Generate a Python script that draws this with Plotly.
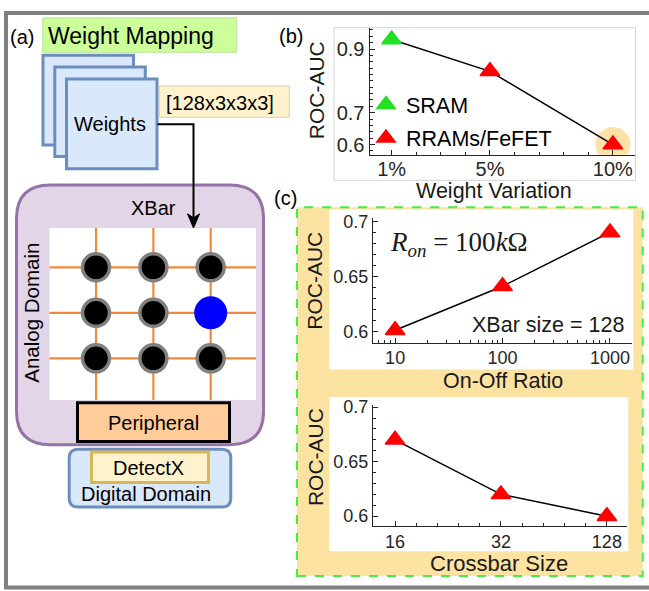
import plotly.graph_objects as go

W, H = 649, 591
SANS = "Liberation Sans, Arial, Helvetica, sans-serif"
SERIF = "Liberation Serif, Times New Roman, serif"
INK = "#262626"

# ---------------- data ----------------
# (b) ROC-AUC vs. weight variation
WV_PCT = [1, 5, 10]
WV_LABELS = ["1%", "5%", "10%"]
WV_AUC = [0.93, 0.83, 0.60]
WV_DEVICE = ["SRAM", "RRAMs/FeFET", "RRAMs/FeFET"]
WV_YTICKS = [0.6, 0.7, 0.9]

# (c) ROC-AUC vs. on-off ratio (XBar size = 128)
ONOFF_RATIO = [10, 100, 1000]
ONOFF_AUC = [0.601, 0.641, 0.69]

# (c) ROC-AUC vs. crossbar size
XBAR_SIZES = ["16", "32", "128"]
XBAR_AUC = [0.67, 0.62, 0.60]
C_YTICKS = [0.6, 0.65, 0.7]

# crossbar cells in the schematic (1 = highlighted cell)
CELL_ACTIVE = [
    [0, 0, 0],
    [0, 0, 1],
    [0, 0, 0],
]


def fx(x):
    return x / W


def fy(y):
    return 1 - y / H


shapes = []
annotations = []


def box(x0, y0, x1, y1, fill, line, lw, dash=None):
    shapes.append(dict(type="rect", xref="paper", yref="paper",
                       x0=fx(x0), x1=fx(x1), y0=fy(y1), y1=fy(y0),
                       fillcolor=fill, layer="below",
                       line=dict(color=line, width=lw, dash=dash)))


def rbox(x0, y0, x1, y1, r, fill, line, lw):
    p = (f"M{fx(x0 + r)},{fy(y0)} L{fx(x1 - r)},{fy(y0)} "
         f"Q{fx(x1)},{fy(y0)} {fx(x1)},{fy(y0 + r)} "
         f"L{fx(x1)},{fy(y1 - r)} Q{fx(x1)},{fy(y1)} {fx(x1 - r)},{fy(y1)} "
         f"L{fx(x0 + r)},{fy(y1)} Q{fx(x0)},{fy(y1)} {fx(x0)},{fy(y1 - r)} "
         f"L{fx(x0)},{fy(y0 + r)} Q{fx(x0)},{fy(y0)} {fx(x0 + r)},{fy(y0)} Z")
    shapes.append(dict(type="path", xref="paper", yref="paper", path=p,
                       fillcolor=fill, layer="below",
                       line=dict(color=line, width=lw)))


def poly(points, fill=None, line="black", lw=2, closed=False):
    p = "M" + " L".join(f"{fx(x)},{fy(y)}" for x, y in points)
    if closed:
        p += " Z"
    shapes.append(dict(type="path", xref="paper", yref="paper", path=p,
                       fillcolor=fill, layer="above",
                       line=dict(color=line, width=lw)))


def text(x, y, s, size, anchor="center", angle=0, family=SANS, color="black"):
    annotations.append(dict(xref="paper", yref="paper", x=fx(x), y=fy(y),
                            text=s, showarrow=False, xanchor=anchor,
                            yanchor="middle", textangle=angle,
                            font=dict(family=family, size=size, color=color)))


# ---------------- outer frame ----------------
shapes.append(dict(type="rect", xref="paper", yref="paper",
                   x0=fx(6), x1=fx(700), y0=fy(588.5), y1=fy(5),
                   line=dict(color="#808080", width=4), layer="above"))

# ---------------- (a) schematic ----------------
text(8, 29, "(a)", 20, anchor="left")
box(42.7, 10, 236.7, 45, "#CCFF99", "#BCE3A0", 1)
text(46, 28.5, "Weight Mapping", 23, anchor="left")

for (x0, y0) in [(43, 48), (54.8, 59.8), (66.5, 72.2)]:
    box(x0, y0, x0 + 90.5, y0 + 91, "#DAE8FC", "#6C8EBF", 3)
text(110, 118, "Weights", 20)

box(159.3, 79, 289.3, 111, "#FFF2CC", "#D8D0B0", 1)
text(220, 96, "[128x3x3x3]", 20)

rbox(16.5, 179.8, 263.5, 443.5, 34, "#E1D5E7", "#9673A6", 3)
text(153, 203, "XBar", 20)
text(31.5, 310, "Analog Domain", 20.5, angle=-90)

box(77.5, 400.8, 229.5, 440.2, "#FFCC99", "black", 3)
text(153.5, 421, "Peripheral", 20)

rbox(69.2, 448.2, 230.8, 506.8, 9, "#DAE8FC", "#6C8EBF", 3)
box(91.5, 450.8, 208.5, 481.8, "#FFF2CC", "#D6B656", 3)
text(148, 467.5, "DetectX", 20)
text(146, 494, "Digital Domain", 20)

# weights -> crossbar connector with arrowhead
poly([(157.5, 118), (193.5, 118), (193.5, 214)], lw=2)
poly([(187.5, 209), (193.5, 223.5), (199.5, 209), (193.5, 213)],
     fill="black", line="black", lw=1, closed=True)

# ---------------- (b) frame ----------------
box(334, 20, 635.5, 175, "white", "#D4D4D4", 1)
text(276.5, 28, "(b)", 20, anchor="left")

# ---------------- (c) frame ----------------
box(297, 202.3, 642.7, 576.7, "#FDE3A2", "#44EE44", 2, dash="dash")
box(329.3, 204.5, 633.3, 367, "white", "white", 0)
box(329.3, 395, 628.3, 551.7, "white", "white", 0)
text(272, 193, "(c)", 20, anchor="left")

fig = go.Figure()

# ---------------- crossbar schematic cells ----------------
n_rows, n_cols = len(CELL_ACTIVE), len(CELL_ACTIVE[0])
xr = [-0.815, n_cols - 1 + 0.79]
yr = [n_rows - 1 + 0.92, -0.866]
shapes.append(dict(type="rect", xref="x4", yref="y4", x0=xr[0], x1=xr[1],
                   y0=yr[0], y1=yr[1], fillcolor="white",
                   line=dict(width=0), layer="below"))
for c in range(n_cols):
    shapes.append(dict(type="line", xref="x4", yref="y4", x0=c, x1=c,
                       y0=yr[0], y1=yr[1], layer="below",
                       line=dict(color="#F0883E", width=2.2)))
for r in range(n_rows):
    shapes.append(dict(type="line", xref="x4", yref="y4", x0=xr[0], x1=xr[1],
                       y0=r, y1=r, layer="below",
                       line=dict(color="#F0883E", width=2.2)))

cols_off = [c for r in range(n_rows) for c in range(n_cols) if not CELL_ACTIVE[r][c]]
rows_off = [r for r in range(n_rows) for c in range(n_cols) if not CELL_ACTIVE[r][c]]
cols_on = [c for r in range(n_rows) for c in range(n_cols) if CELL_ACTIVE[r][c]]
rows_on = [r for r in range(n_rows) for c in range(n_cols) if CELL_ACTIVE[r][c]]
fig.add_trace(go.Scatter(x=cols_off, y=rows_off, mode="markers", xaxis="x4", yaxis="y4",
                         marker=dict(symbol="circle", size=27, color="black",
                                     line=dict(color="#808080", width=3.5)),
                         showlegend=False, hoverinfo="skip"))
fig.add_trace(go.Scatter(x=cols_on, y=rows_on, mode="markers", xaxis="x4", yaxis="y4",
                         marker=dict(symbol="circle", size=33, color="#0000FF",
                                     line=dict(width=0)),
                         showlegend=False, hoverinfo="skip"))

# ---------------- (b) weight variation ----------------
fig.add_trace(go.Scatter(x=[WV_PCT[-1]], y=[WV_AUC[-1]], mode="markers",
                         marker=dict(symbol="circle", size=35, color="#FCE2A6"),
                         showlegend=False, hoverinfo="skip"))
fig.add_trace(go.Scatter(x=WV_PCT, y=WV_AUC, mode="lines",
                         line=dict(color="black", width=1.5),
                         showlegend=False))
sram_x = [x for x, d in zip(WV_PCT, WV_DEVICE) if d == "SRAM"]
sram_y = [y for y, d in zip(WV_AUC, WV_DEVICE) if d == "SRAM"]
nvm_x = [x for x, d in zip(WV_PCT, WV_DEVICE) if d != "SRAM"]
nvm_y = [y for y, d in zip(WV_AUC, WV_DEVICE) if d != "SRAM"]
fig.add_trace(go.Scatter(x=sram_x, y=sram_y, mode="markers", name="SRAM",
                         marker=dict(symbol="triangle-up", size=17, color="#22E022",
                                     line=dict(color="#22E022", width=1.5)),
                         legend="legend"))
fig.add_trace(go.Scatter(x=nvm_x, y=nvm_y, mode="markers", name="RRAMs/FeFET",
                         marker=dict(symbol="triangle-up", size=17, color="#FF0000",
                                     line=dict(color="#FF0000", width=1.5)),
                         legend="legend2"))

# ---------------- (c) on-off ratio ----------------
fig.add_trace(go.Scatter(x=ONOFF_RATIO, y=ONOFF_AUC, mode="lines+markers",
                         xaxis="x2", yaxis="y2",
                         line=dict(color="black", width=1.5),
                         marker=dict(symbol="triangle-up", size=17, color="#FF0000",
                                     line=dict(color="#FF0000", width=1.5)),
                         showlegend=False))

# ---------------- (c) crossbar size ----------------
xb_pos = list(range(len(XBAR_SIZES)))
fig.add_trace(go.Scatter(x=xb_pos, y=XBAR_AUC, mode="lines+markers",
                         xaxis="x3", yaxis="y3",
                         line=dict(color="black", width=1.5),
                         marker=dict(symbol="triangle-up", size=17, color="#FF0000",
                                     line=dict(color="#FF0000", width=1.5)),
                         showlegend=False))

# ---------------- texts for plots ----------------
text(316.5, 84, "ROC-AUC", 21, angle=-90, color="#1a1a1a")
text(494, 186, "Weight Variation", 21.5, color="#1a1a1a")
text(315, 277, "ROC-AUC", 21, angle=-90, color="#1a1a1a")
text(502.5, 379, "On-Off Ratio", 21.5, color="#1a1a1a")
text(315, 456, "ROC-AUC", 21, angle=-90, color="#1a1a1a")
text(499, 564, "Crossbar Size", 22, color="#1a1a1a")
text(388, 240, "<i>R</i><sub><i>on</i></sub> = 100<i>k</i>Ω", 27,
     anchor="left", family=SERIF, color="#1a1a1a")
text(470, 322, "XBar size = 128", 21.5, anchor="left", color="#1a1a1a")


def axis(domain, rng, tickvals, ticktext, size, minor_dtick, anchor, **kw):
    d = dict(domain=domain, range=rng, tickmode="array", tickvals=tickvals,
             ticktext=ticktext, showline=True, linecolor=INK, linewidth=1,
             ticks="inside", ticklen=5, tickcolor=INK, tickwidth=1,
             showgrid=False, zeroline=False, anchor=anchor,
             tickfont=dict(family=SANS, size=size, color=INK),
             minor=dict(ticks="inside", ticklen=3, tickcolor=INK,
                        dtick=minor_dtick, showgrid=False))
    d.update(kw)
    return d


fig.update_layout(
    width=W, height=H, autosize=False,
    margin=dict(l=0, r=0, t=0, b=0),
    paper_bgcolor="white", plot_bgcolor="rgba(0,0,0,0)",
    shapes=shapes, annotations=annotations,
    xaxis=axis([fx(369.5), fx(635)], [0.1, 10.9], WV_PCT, WV_LABELS, 20, 1, "y",
               ticklabelstandoff=-4),
    yaxis=axis([fy(149), fy(20)], [0.568, 0.967], WV_YTICKS,
               [f"{v:g}" for v in WV_YTICKS], 20, 0.02, "x"),
    xaxis2=axis([fx(373), fx(632)], [0.794, 3.205], ONOFF_RATIO,
                [str(v) for v in ONOFF_RATIO], 18, "D1", "y2", type="log",
                ticklabelstandoff=-1),
    yaxis2=axis([fy(340), fy(213)], [0.5895, 0.7033], C_YTICKS,
                [f"{v:g}" for v in C_YTICKS], 18, 0.01, "x2"),
    xaxis3=axis([fx(373), fx(627)], [-0.208, 2.19], xb_pos, XBAR_SIZES, 18, 0.2, "y3",
                ticklabelstandoff=-1),
    yaxis3=axis([fy(526), fy(403.3)], [0.591, 0.7018], C_YTICKS,
                [f"{v:g}" for v in C_YTICKS], 18, 0.01, "x3"),
    xaxis4=dict(domain=[fx(49.3), fx(256)], range=xr, visible=False, anchor="y4"),
    yaxis4=dict(domain=[fy(398.3), fy(223.3)], range=yr, visible=False, anchor="x4"),
    legend=dict(x=fx(366), y=fy(98), xanchor="left", yanchor="middle",
                bgcolor="rgba(0,0,0,0)", borderwidth=0,
                font=dict(family=SANS, size=21.5, color="black")),
    legend2=dict(x=fx(366), y=fy(132), xanchor="left", yanchor="middle",
                 bgcolor="rgba(0,0,0,0)", borderwidth=0,
                 font=dict(family=SANS, size=21.5, color="black")),
)

fig.write_html("out.html")
